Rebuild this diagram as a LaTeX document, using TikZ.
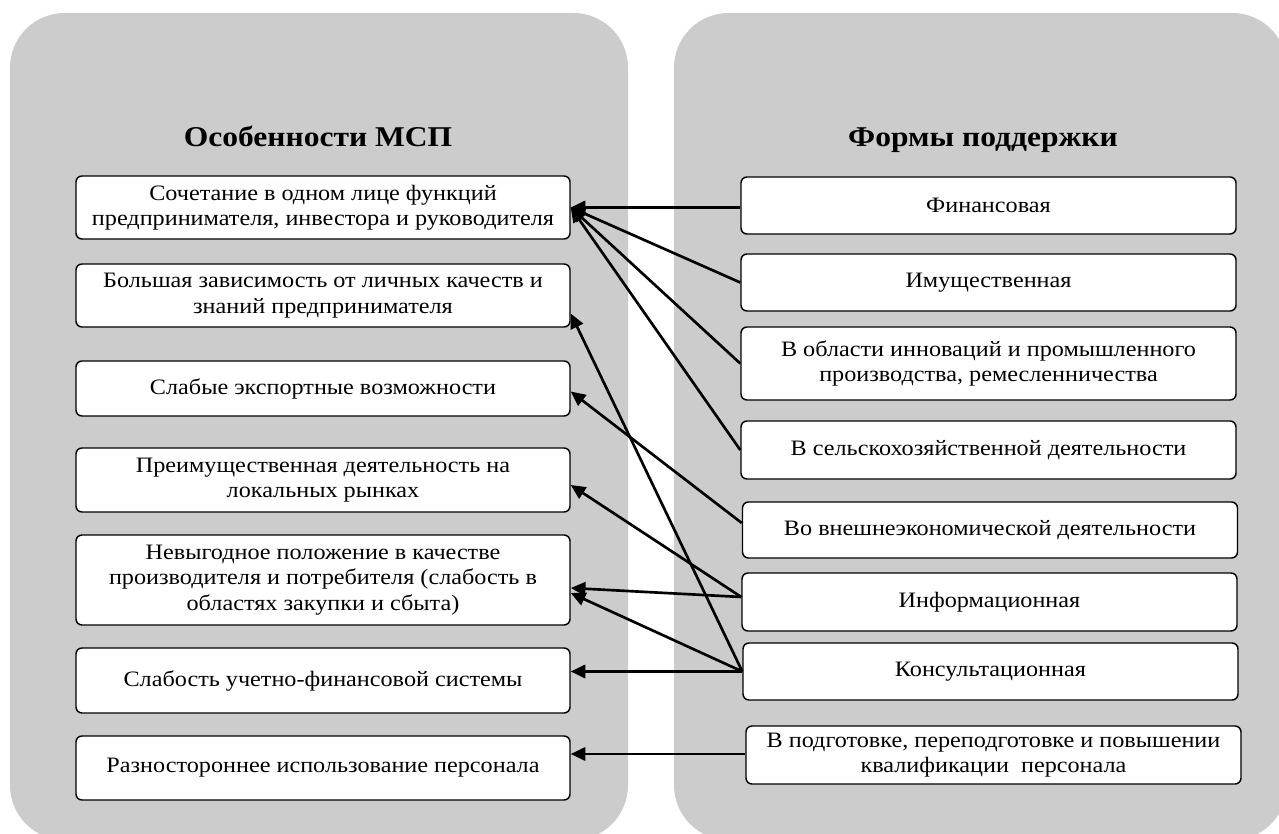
\documentclass[tikz,border=0pt]{standalone}
\usepackage{fontspec}
\setmainfont{Liberation Serif}[FakeStretch=1.1]
\usetikzlibrary{arrows.meta,calc}
\definecolor{panelgrey}{HTML}{CCCCCC}
\begin{document}
\begin{tikzpicture}[x=0.75pt,y=-0.75pt,
  panel/.style={fill=panelgrey, rounded corners=41pt},
  ttl/.style={font=\bfseries\fontsize{21.5}{24}\selectfont, inner sep=0pt, anchor=base},
  lbox/.style={draw, line width=1.1pt, rounded corners=4.5pt, fill=white, inner sep=0pt,
    align=center, minimum width=370.5pt, font=\fontsize{16.5}{19}\selectfont},
  rbox/.style={lbox, minimum width=371.25pt},
  conn/.style={line width=2pt, -{Triangle[length=11pt,width=10pt]}}]
\useasboundingbox (0,0) rectangle (1279,834);
\clip (0,0) rectangle (1279,834);
\fill[panel] (10,13) rectangle (628,840);
\fill[panel] (674,13) rectangle (1287,840);
\node[ttl] (t1) at (318,147) {Особенности МСП};
\node[ttl] (t2) at (983,147) {Формы поддержки};
% left boxes
\node[lbox, minimum height=47.25pt] (l1) at (323,207.5) {Сочетание в одном лице функций\\предпринимателя, инвестора и руководителя};
\node[lbox, minimum height=47.25pt] (l2) at (323,295.5) {Большая зависимость от личных качеств и\\знаний предпринимателя};
\node[lbox, minimum height=41.25pt] (l3) at (323,388.5) {Слабые экспортные возможности};
\node[lbox, minimum height=48pt] (l4) at (323,480) {Преимущественная деятельность на\\локальных рынках};
\node[lbox, minimum height=67.5pt] (l5) at (323,580) {Невыгодное положение в качестве\\производителя и потребителя (слабость в\\областях закупки и сбыта)};
\node[lbox, minimum height=48.75pt] (l6) at (323,680.5) {Слабость учетно-финансовой системы};
\node[lbox, minimum height=48pt] (l7) at (323,768) {Разностороннее использование персонала};
% right boxes
\node[rbox, minimum height=42.75pt] (r1) at (988.5,205.5) {Финансовая};
\node[rbox, minimum height=42.75pt] (r2) at (988.5,282.5) {Имущественная};
\node[rbox, minimum height=54.75pt] (r3) at (988.5,363.5) {В области инноваций и промышленного\\производства, ремесленничества};
\node[rbox, minimum height=43.5pt] (r4) at (988.5,450) {В сельскохозяйственной деятельности};
\node[rbox, minimum height=42pt] (r5) at (990,530) {Во внешнеэкономической деятельности};
\node[rbox, minimum height=43.5pt] (r6) at (989.5,602) {Информационная};
\node[rbox, minimum height=42.75pt] (r7) at (990.5,671.5) {Консультационная};
\node[rbox, minimum height=43.5pt] (r8) at (993.5,755) {В подготовке, переподготовке и повышении\\квалификации\ \ персонала};
% connectors
\draw[conn] (l1.east -| r1.west) -- (l1.east);
\draw[conn] (r2.west) -- (l1.east);
\draw[conn] (r3.west) -- (l1.east);
\draw[conn] (r4.west) -- (l1.east);
\draw[conn] ($(r5.west)+(0,-7)$) -- ($(l3.east)+(0,3)$);
\draw[conn] ($(r6.west)+(0,-5)$) -- ($(l4.east)+(0,5)$);
\draw[conn] ($(r6.west)+(0,-5)$) -- ($(l5.east)+(0,8)$);
\draw[conn] (r7.west) -- ($(l2.east)+(0,18)$);
\draw[conn] (r7.west) -- ($(l5.east)+(0,13)$);
\draw[conn] (r7.west) -- (r7.west -| l6.east);
\draw[conn] ($(r8.west)+(0,-1)$) -- ($(r8.west -| l7.east)+(0,-1)$);
\end{tikzpicture}
\end{document}
